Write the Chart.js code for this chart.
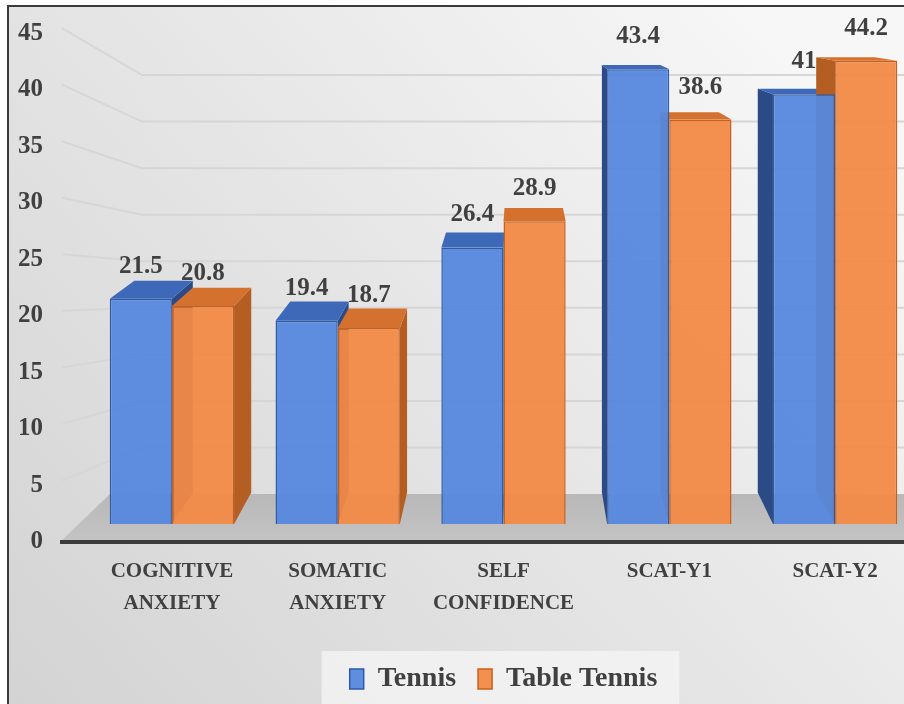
<!DOCTYPE html>
<html>
<head>
<meta charset="utf-8">
<script src="https://cdn.jsdelivr.net/npm/chart.js@4.4.0/dist/chart.umd.min.js"></script>
<style>
html, body { margin: 0; padding: 0; overflow: hidden; background: #fff; }
#wrap { position: absolute; left: 0; top: -30px; }
</style>
</head>
<body>
<div id="wrap"><canvas id="myChart" width="970" height="760"></canvas></div>
<script>
// data
const categories = [['COGNITIVE', 'ANXIETY'], ['SOMATIC', 'ANXIETY'], ['SELF', 'CONFIDENCE'], 'SCAT-Y1', 'SCAT-Y2'];
const tennis = [21.5, 19.4, 26.4, 43.4, 41];
const tableTennis = [20.8, 18.7, 28.9, 38.6, 44.2];
const yTicks = [0, 5, 10, 15, 20, 25, 30, 35, 40, 45];

const serif = 'Liberation Serif, Times New Roman, serif';
const textColor = '#404040';
const frameTop = 36; // canvas sits 30px above the page top

// fake 3D: back edges pulled toward a vanishing point
const depth = 0.06, vanX = 520, vanY = 30;
function back(px, py) {
    return [px + (vanX - px) * depth, py + (vanY - py) * depth];
}
function poly(ctx, pts, fill) {
    ctx.beginPath();
    ctx.moveTo(pts[0][0], pts[0][1]);
    for (let i = 1; i < pts.length; i++) ctx.lineTo(pts[i][0], pts[i][1]);
    ctx.closePath();
    ctx.fillStyle = fill;
    ctx.fill();
}

const sideColors = ['#2c4a86', '#b45e24'];
const topColors = ['#3e68b8', '#d4712f'];

const backdrop = {
    id: 'backdrop',
    beforeDraw(chart) {
        const ctx = chart.ctx, w = chart.width, h = chart.height;
        ctx.save();
        ctx.fillStyle = '#ffffff';
        ctx.fillRect(0, 0, w, h);
        const g = ctx.createLinearGradient(0, 730, 760, frameTop);
        g.addColorStop(0, '#d3d3d3');
        g.addColorStop(0.55, '#e6e6e6');
        g.addColorStop(1, '#f7f7f7');
        ctx.fillStyle = g;
        ctx.fillRect(8, frameTop, w, h);
        ctx.strokeStyle = '#3a3a3a';
        ctx.lineWidth = 2;
        ctx.beginPath();
        ctx.moveTo(8, h);
        ctx.lineTo(8, frameTop);
        ctx.lineTo(w, frameTop);
        ctx.stroke();

        // legend panel
        const lg = chart.legend;
        if (lg && lg.legendHitBoxes && lg.legendHitBoxes.length) {
            const hb = lg.legendHitBoxes;
            const l = hb[0].left - 28, r = hb[hb.length - 1].left + hb[hb.length - 1].width + 22;
            ctx.fillStyle = 'rgba(245,245,245,0.75)';
            ctx.fillRect(l, lg.top + 8, r - l, h);
        }
        ctx.restore();
    }
};

const floorAndGrid = {
    id: 'floorAndGrid',
    beforeDatasetsDraw(chart) {
        const ctx = chart.ctx, w = chart.width;
        const yT = chart.scales.y, yW = chart.scales.yWall;
        ctx.save();
        // wall grid lines
        ctx.strokeStyle = '#d6d6d6';
        ctx.lineWidth = 2;
        yTicks.forEach(v => {
            if (v === 0) return;
            ctx.beginPath();
            ctx.moveTo(62, yT.getPixelForValue(v) - 5);
            ctx.lineTo(142, yW.getPixelForValue(v));
            ctx.lineTo(w, yW.getPixelForValue(v));
            ctx.stroke();
        });
        // floor
        const f0 = yT.getPixelForValue(0), b0 = yW.getPixelForValue(0);
        const fg = ctx.createLinearGradient(0, b0, 0, f0);
        fg.addColorStop(0, '#b8b8b8');
        fg.addColorStop(1, '#c4c4c4');
        poly(ctx, [[60, f0], [110, b0], [w, b0], [w, f0]], fg);
        ctx.strokeStyle = '#3c3c3c';
        ctx.lineWidth = 4;
        ctx.beginPath();
        ctx.moveTo(60, f0);
        ctx.lineTo(w, f0);
        ctx.stroke();

        // side and top faces of the bars
        chart.data.datasets.forEach((ds, di) => {
            chart.getDatasetMeta(di).data.forEach(el => {
                const p = el.getProps(['x', 'y', 'base', 'width'], true);
                const l = p.x - p.width / 2, r = p.x + p.width / 2;
                if (r < vanX) {
                    poly(ctx, [[r, p.y], back(r, p.y), back(r, p.base), [r, p.base]], sideColors[di]);
                } else if (l > vanX) {
                    poly(ctx, [[l, p.y], back(l, p.y), back(l, p.base), [l, p.base]], sideColors[di]);
                }
                poly(ctx, [[l, p.y], [r, p.y], back(r, p.y), back(l, p.y)], topColors[di]);
            });
        });
        ctx.restore();
    }
};

const valueLabels = {
    id: 'valueLabels',
    afterDatasetsDraw(chart) {
        const ctx = chart.ctx;
        ctx.save();
        ctx.font = 'bold 25px ' + serif;
        ctx.fillStyle = textColor;
        ctx.textAlign = 'center';
        ctx.textBaseline = 'alphabetic';
        chart.data.datasets.forEach((ds, di) => {
            chart.getDatasetMeta(di).data.forEach((el, i) => {
                ctx.fillText(String(ds.data[i]), el.x, el.y - 26);
            });
        });
        ctx.restore();
    }
};

const ctx = document.getElementById('myChart');
new Chart(ctx, {
    type: 'bar',
    data: {
        labels: categories,
        datasets: [{
            label: 'Tennis',
            data: tennis,
            yAxisID: 'yBar',
            backgroundColor: 'rgba(86,136,222,0.95)',
            borderColor: '#2f5aa6',
            borderWidth: 1.5,
            categoryPercentage: 0.75,
            barPercentage: 1
        }, {
            label: 'Table Tennis',
            data: tableTennis,
            yAxisID: 'yBar',
            backgroundColor: 'rgba(242,137,70,0.95)',
            borderColor: '#c8601c',
            borderWidth: 1.5,
            categoryPercentage: 0.75,
            barPercentage: 1
        }]
    },
    options: {
        responsive: false,
        animation: false,
        layout: { padding: { left: 0, top: -19, right: 52, bottom: 27 } },
        plugins: {
            legend: {
                position: 'bottom',
                fullSize: false,
                labels: {
                    boxWidth: 14,
                    boxHeight: 20,
                    padding: 22,
                    color: textColor,
                    font: { family: serif, size: 28, weight: 'bold' }
                }
            },
            tooltip: { enabled: false }
        },
        scales: {
            x: {
                grid: { display: false },
                border: { display: false },
                ticks: {
                    color: textColor,
                    padding: 1,
                    maxRotation: 0,
                    font: { family: serif, size: 21, weight: 'bold', lineHeight: 1.5 }
                },
                afterFit: s => { s.height = 96; }
            },
            y: {
                position: 'left',
                min: -0.44,
                max: 45.9,
                afterBuildTicks: s => { s.ticks = yTicks.map(v => ({ value: v })); },
                grid: { display: false },
                border: { display: false },
                ticks: {
                    color: textColor,
                    padding: 38,
                    font: { family: serif, size: 25, weight: 'bold' }
                },
                afterFit: s => { s.width = 89; }
            },
            yBar: { type: 'linear', display: false, min: -2.19, max: 47.81 },
            yWall: { type: 'linear', display: false, min: -5.68, max: 50.59 }
        }
    },
    plugins: [backdrop, floorAndGrid, valueLabels]
});
</script>
</body>
</html>
